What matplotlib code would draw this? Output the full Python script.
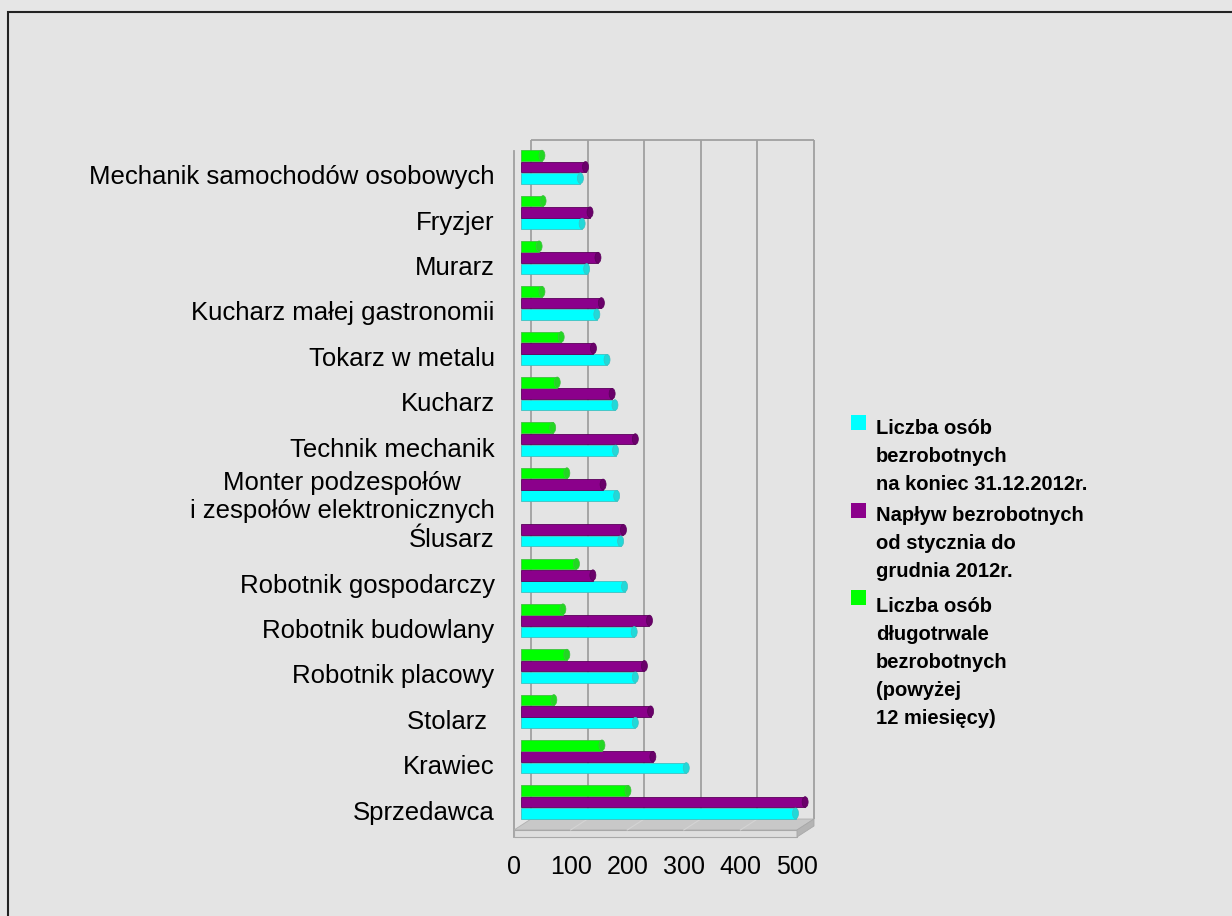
import numpy as np
import matplotlib.pyplot as plt
from matplotlib.transforms import ScaledTranslation
from matplotlib.patches import Rectangle, Polygon, Ellipse

plt.rcParams['font.family'] = ['Liberation Sans', 'DejaVu Sans']

# categories from bottom to top
categories = ['Sprzedawca', 'Krawiec', 'Stolarz ', 'Robotnik placowy', 'Robotnik budowlany',
              'Robotnik gospodarczy', 'Ślusarz',
              'Monter podzespołów\ni zespołów elektronicznych',
              'Technik mechanik', 'Kucharz', 'Tokarz w metalu', 'Kucharz małej gastronomii',
              'Murarz', 'Fryzjer', 'Mechanik samochodów osobowych']
registered = [485, 292, 202, 202, 200, 183, 176, 169, 167, 166, 152, 134, 116, 108, 105]
inflow = [502, 233, 229, 218, 227, 127, 181, 145, 202, 161, 128, 142, 136, 122, 114]
long_term = [189, 143, 58, 81, 74, 98, 0, 81, 56, 64, 71, 37, 32, 39, 37]
x_ticks = [0, 100, 200, 300, 400, 500]

series_labels = ['Liczba osób\nbezrobotnych\nna koniec 31.12.2012r.',
                 'Napływ bezrobotnych\nod stycznia do\ngrudnia 2012r.',
                 'Liczba osób\ndługotrwale\nbezrobotnych\n(powyżej\n12 miesięcy)']
colors = ['#00ffff', '#8b008b', '#00ff00']
caps = ['#22d8d8', '#6a006a', '#22d822']
edges = ['#40c0c0', '#5a005a', '#40c040']

W, H = 1232, 916
fig = plt.figure(figsize=(W / 100, H / 100), dpi=100, facecolor='#e6e6e6')

# outer frame of the chart area
fig.patches.append(Rectangle((8 / W, -0.05), 1.1, 1 - 12 / H + 0.05, transform=fig.transFigure,
                             facecolor='#e4e4e4', edgecolor='#222222', linewidth=1.5, zorder=-5))

# front plane of the plot in pixels
left, right, bottom, top = 514, 797, 830, 151
ax = fig.add_axes([left / W, 1 - bottom / H, (right - left) / W, (bottom - top) / H])
ax.set_zorder(2)
ax.set_facecolor('none')
ax.set_xlim(0, 500)
ax.set_ylim(-0.617, 14.35)
for s in ax.spines.values():
    s.set_visible(False)

# pseudo 3D depth offsets (pixels)
dx, dy, fz = 17, 11, 7
dpi = fig.dpi
back_tr = ax.transData + ScaledTranslation(dx / dpi, dy / dpi, fig.dpi_scale_trans)
mid_tr = ax.transData + ScaledTranslation(7 / dpi, 0, fig.dpi_scale_trans)

ax_w, ax_h = right - left, bottom - top
ddx, ddy, dfz = dx / ax_w, dy / ax_h, fz / ax_h

# back wall grid lines and outline
y0, y1 = ax.get_ylim()
ax.vlines(x_ticks, y0, y1, colors='#a0a0a0', linewidth=1.3, transform=back_tr,
          zorder=1, clip_on=False)
ax.hlines(y1, 0, 500, colors='#a0a0a0', linewidth=1.3, transform=back_tr,
          zorder=1, clip_on=False)
# left wall front edge
ax.plot([0, 0], [-dfz, 1], color='#a0a0a0', linewidth=1.3, transform=ax.transAxes,
        clip_on=False, zorder=1)

# floor
floor_top = Polygon([(0, 0), (1, 0), (1 + ddx, ddy), (ddx, ddy)], closed=True,
                    transform=ax.transAxes, facecolor='#c8c8c8', edgecolor='#b0b0b0',
                    linewidth=0.6, clip_on=False, zorder=1)
floor_front = Polygon([(0, 0), (1, 0), (1, -dfz), (0, -dfz)], closed=True,
                      transform=ax.transAxes, facecolor='#dedede', edgecolor='#a8a8a8',
                      linewidth=0.8, clip_on=False, zorder=1)
floor_side = Polygon([(1, 0), (1 + ddx, ddy), (1 + ddx, ddy - dfz), (1, -dfz)], closed=True,
                     transform=ax.transAxes, facecolor='#b4b4b4', edgecolor='#a8a8a8',
                     linewidth=0.6, clip_on=False, zorder=1)
for p in (floor_top, floor_front, floor_side):
    ax.add_patch(p)
for t in x_ticks[1:-1]:
    xa = t / 500
    ax.plot([xa, xa + ddx], [0, ddy], color='#d4d4d4', linewidth=0.8,
            transform=ax.transAxes, clip_on=False, zorder=1)

# bars (cylinders: body + darker end cap)
y = np.arange(len(categories))
h = 0.25
cap_w = 6 / (ax_w / 500)  # 6 px in data units
for vals, off, c, cc, e in zip([registered, inflow, long_term], [-h, 0, h], colors, caps, edges):
    vals = np.asarray(vals)
    keep = vals > 0
    bars = ax.barh((y + off)[keep], vals[keep], height=h * 0.94, color=c, edgecolor=e,
                   linewidth=0.6, transform=mid_tr, zorder=3)
    for b in bars:
        b.set_clip_on(False)
    for yy, v in zip((y + off)[keep], vals[keep]):
        cap = Ellipse((v, yy), cap_w, h * 0.94, facecolor=cc, edgecolor=e, linewidth=0.5,
                      transform=mid_tr, zorder=4, clip_on=False)
        ax.add_patch(cap)

# ticks and labels
ax.set_xticks(x_ticks)
ax.set_xticklabels([str(t) for t in x_ticks], fontsize=18)
ax.tick_params(axis='x', length=0, pad=18)
ax.set_yticks(y)
ax.set_yticklabels(categories, fontsize=18.5, multialignment='center')
ax.tick_params(axis='y', length=0, pad=14)
for lab in ax.get_yticklabels():
    lab.set_transform(lab.get_transform() + ScaledTranslation(0, -0.08, fig.dpi_scale_trans))

# legend
sq_tops = [415, 503, 590]
txt_tops = [419, 506, 597]
for lab, c, st, tt in zip(series_labels, colors, sq_tops, txt_tops):
    fig.patches.append(Rectangle((851 / W, 1 - (st + 15) / H), 15 / W, 15 / H,
                                 transform=fig.transFigure, facecolor=c,
                                 edgecolor='none', zorder=2))
    fig.text(876 / W, 1 - tt / H, lab, fontsize=14.5, fontweight='bold', va='top',
             ha='left', linespacing=1.6)

fig.savefig('out.png', dpi=100, facecolor=fig.get_facecolor())
